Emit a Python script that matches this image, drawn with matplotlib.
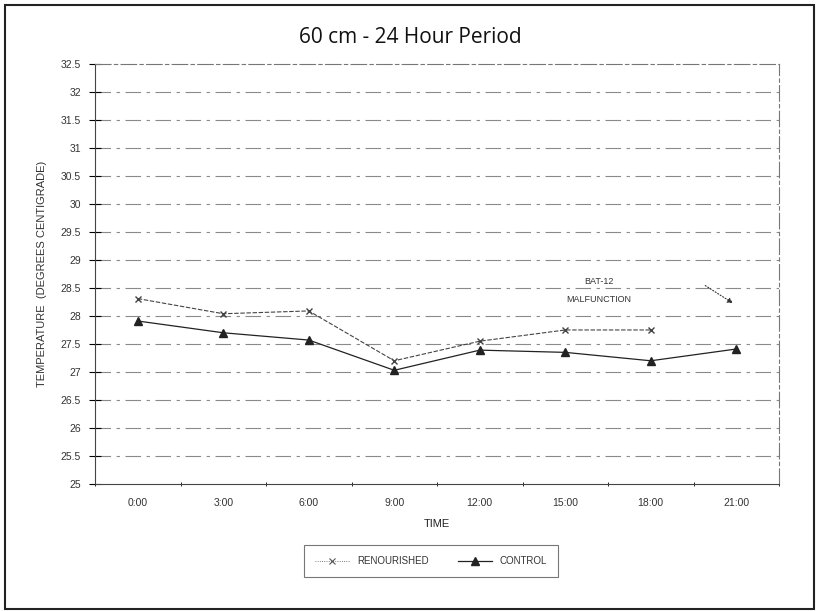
# 60 cm temperature over a 24 hour period, renourished vs control

import numpy as np
import matplotlib.pyplot as plt
from matplotlib.lines import Line2D
from matplotlib.patches import Rectangle

times = ["0:00", "3:00", "6:00", "9:00", "12:00", "15:00", "18:00", "21:00"]
renourished = [28.31, 28.04, 28.09, 27.20, 27.55, 27.75, 27.75, np.nan]
control = [27.91, 27.70, 27.57, 27.03, 27.39, 27.35, 27.20, 27.41]
yticks_values = np.arange(25, 32.51, 0.5)

plt.rcParams["font.family"] = ["Liberation Sans", "DejaVu Sans"]

fig = plt.figure(figsize=(8.17, 6.11), dpi=100)
ax = fig.add_axes([0.1163, 0.2079, 0.8372, 0.6874])

x = np.arange(len(times))

# faint broken gridlines like the scanned original
for yv in yticks_values[1:-1]:
    ax.axhline(yv, color="#8a8a8a", linewidth=0.8, linestyle=(0, (14, 5, 3, 5)), zorder=1)

ax.plot(x, renourished, color="#444444", linewidth=0.8, linestyle=(0, (4, 1.5)),
        marker="x", markersize=5, markeredgewidth=1.0, zorder=3, label="RENOURISHED")
ax.plot(x, control, color="#222222", linewidth=0.9,
        marker="^", markersize=5.5, zorder=3, label="CONTROL")

ax.text(5.39, 28.62, "BAT-12", ha="center", va="center", fontsize=6.5, color="#333333")
ax.text(5.39, 28.30, "MALFUNCTION", ha="center", va="center", fontsize=6.5, color="#333333")
ax.annotate("", xy=(6.99, 28.2), xytext=(6.61, 28.57),
            arrowprops=dict(arrowstyle="-|>", color="#333333", lw=0.8, linestyle=":",
                            mutation_scale=8))

ax.set_xlim(-0.5, 7.5)
ax.set_ylim(25, 32.5)
ax.set_xticks(x)
ax.set_xticklabels(times, fontsize=7.5, color="#333333")
ax.set_xticks(np.arange(-0.5, 7.6, 0.5), minor=True)
ax.tick_params(axis="x", which="both", length=3, direction="inout", pad=10)
ax.tick_params(axis="x", which="major", length=0)
ax.set_yticks(yticks_values)
ax.set_yticklabels([f"{v:g}" for v in yticks_values], fontsize=7.5, color="#333333")
ax.tick_params(axis="y", length=8, direction="inout", pad=6)

for side in ["top", "right"]:
    ax.spines[side].set_color("#777777")
    ax.spines[side].set_linewidth(0.8)
    ax.spines[side].set_linestyle((0, (14, 3, 3, 3)))
ax.spines["left"].set_color("#444444")
ax.spines["bottom"].set_color("#444444")

ax.set_xlabel("TIME", fontsize=8, color="#222222", labelpad=8)
ax.set_ylabel("TEMPERATURE  (DEGREES CENTIGRADE)", fontsize=8, color="#333333", labelpad=10)

fig.text(0.502, 0.938, "60 cm - 24 Hour Period", ha="center", va="center",
         fontsize=15, family=["Open Sans", "DejaVu Sans"], color="#111111")

handles = [
    Line2D([], [], color="#555555", linewidth=0.6, linestyle=":", marker="x",
           markersize=4, markeredgewidth=0.8),
    Line2D([], [], color="#222222", linewidth=0.9, marker="^", markersize=5.5),
]
leg = fig.legend(handles, ["RENOURISHED", "CONTROL"], loc="center",
                 bbox_to_anchor=(0.5275, 0.0818), ncol=2, fontsize=7,
                 frameon=True, fancybox=False, handlelength=3.5, columnspacing=3,
                 borderpad=1.1)
leg.get_frame().set_edgecolor("#555555")
leg.get_frame().set_linewidth(0.8)
for t in leg.get_texts():
    t.set_color("#333333")

# page border of the scan
fig.add_artist(Rectangle((0.006, 0.003), 0.99, 0.988, transform=fig.transFigure,
                         fill=False, edgecolor="#222222", linewidth=1.5))

fig.savefig("out.png", dpi=100)
